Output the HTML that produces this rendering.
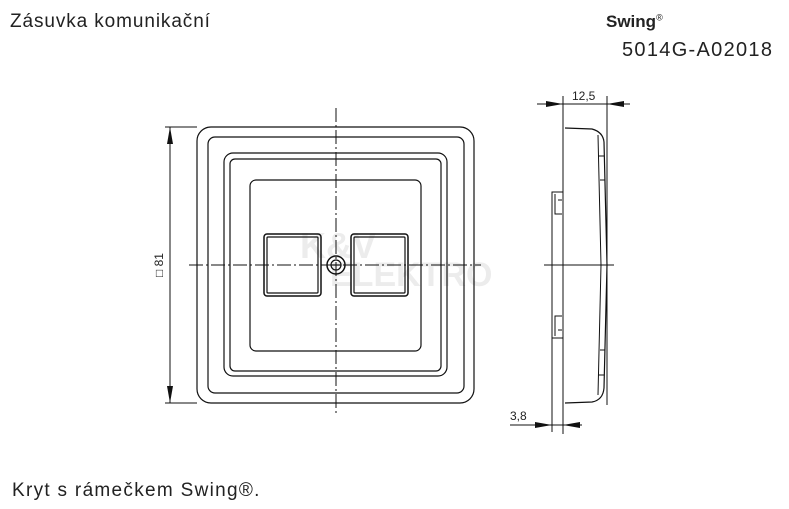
<!DOCTYPE html>
<html><head><meta charset="utf-8"><style>
html,body{margin:0;padding:0;background:#fff;}
body{width:789px;height:509px;overflow:hidden;position:relative;font-family:"Liberation Sans","DejaVu Sans",sans-serif;color:#222;}
.t{position:absolute;white-space:nowrap;}
</style></head><body>
<div class="t" style="left:10px;top:11px;font-size:19px;letter-spacing:0.9px;">Zásuvka komunikační</div>
<div class="t" style="left:606px;top:12px;font-size:17px;font-weight:bold;">Swing<sup style="font-size:9px;font-weight:normal">®</sup></div>
<div class="t" style="left:622px;top:39px;font-size:20px;letter-spacing:1.3px;">5014G-A02018</div>
<div class="t" style="left:12px;top:480px;font-size:19px;letter-spacing:1.3px;">Kryt s rámečkem Swing®.</div>
<svg width="789" height="509" style="position:absolute;left:0;top:0" xmlns="http://www.w3.org/2000/svg">
<g font-family="Liberation Sans, sans-serif" font-weight="bold" fill="#ececec" font-size="36">
<text x="300" y="258">K&amp;V</text><text x="330" y="286" font-size="34">ELEKTRO</text>
</g>
<g fill="none" stroke="#111" stroke-width="1.2">
<rect x="197" y="127" width="277" height="276" rx="14"/>
<rect x="208" y="137" width="256" height="256" rx="7"/>
<rect x="224" y="153" width="223" height="223" rx="9"/>
<rect x="230" y="159" width="211" height="212" rx="5"/>
<rect x="250" y="180" width="171" height="171" rx="6"/>
<rect x="264" y="234" width="57" height="62" rx="3" stroke-width="1.5"/>
<rect x="267" y="237" width="51" height="56" rx="1"/>
<rect x="351" y="234" width="57" height="62" rx="3" stroke-width="1.5"/>
<rect x="354" y="237" width="51" height="56" rx="1"/>
<circle cx="336" cy="265" r="9" stroke-width="1.5"/>
<circle cx="336" cy="265" r="5"/>
<line x1="331" y1="265" x2="341" y2="265"/>
</g>
<g stroke="#111" stroke-width="1" stroke-dasharray="14,3,2,3">
<line x1="336" y1="108" x2="336" y2="413"/>
<line x1="189" y1="265" x2="481" y2="265"/>
</g>
<g stroke="#111" stroke-width="1">
<line x1="165" y1="127" x2="197" y2="127"/>
<line x1="165" y1="403" x2="197" y2="403"/>
<line x1="170" y1="127" x2="170" y2="403"/>
</g>
<g fill="#111">
<polygon points="170,127 167,144 173,144"/>
<polygon points="170,403 167,386 173,386"/>
<polygon points="563,104 546,101 546,107"/>
<polygon points="607,104 624,101 624,107"/>
<polygon points="552,425 535,422 535,428"/>
<polygon points="563,425 580,422 580,428"/>
</g>
<text x="163" y="277" font-family="Liberation Sans, sans-serif" font-size="12" fill="#222" transform="rotate(-90 163 277)">□ 81</text>
<g fill="none" stroke="#111" stroke-width="1">
<line x1="563" y1="96" x2="563" y2="434"/>
<line x1="607" y1="96" x2="607" y2="405"/>
<line x1="537" y1="104" x2="630" y2="104"/>
<line x1="544" y1="265" x2="614" y2="265"/>
<line x1="552" y1="338" x2="552" y2="432"/>
<line x1="510" y1="425" x2="582" y2="425"/>
<path d="M565 128 L592 129 Q603 132 604 142 L607 265 L604 388 Q603 400 592 402 L565 403" stroke-width="1.2"/>
<path d="M598 135 L601 265 L598 395"/>
<line x1="598" y1="156" x2="604" y2="156"/><line x1="598" y1="375" x2="604" y2="375"/>
<line x1="600" y1="180" x2="605" y2="180"/><line x1="600" y1="350" x2="605" y2="350"/>
<rect x="552" y="192" width="11" height="146"/>
<path d="M555 194 L555 214 L562 214 M558 200 L562 200"/>
<path d="M555 336 L555 316 L562 316 M558 330 L562 330"/>
</g>
<g font-family="Liberation Sans, sans-serif" font-size="12" fill="#222">
<text x="572" y="100">12,5</text>
<text x="510" y="420">3,8</text>
</g>
</svg>
</body></html>
